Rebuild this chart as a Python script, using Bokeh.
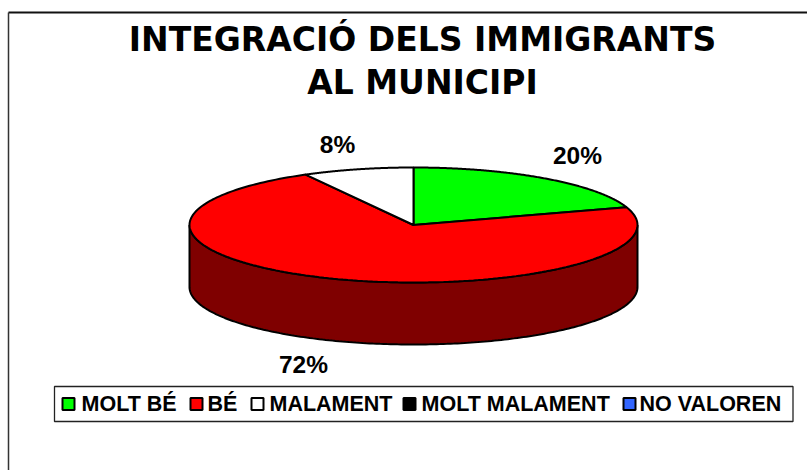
import numpy as np
from bokeh.plotting import figure
from bokeh.embed import file_html
from bokeh.resources import INLINE
from bokeh.core.properties import value
from bokeh.models import Range1d

categories = ["MOLT BÉ", "BÉ", "MALAMENT", "MOLT MALAMENT", "NO VALOREN"]
shares = [20, 72, 8, 0, 0]
colors = ["#00ff00", "#ff0000", "#ffffff", "#000000", "#3366ff"]
side_color = "#7f0000"
title_lines = ["INTEGRACIÓ DELS IMMIGRANTS", "AL MUNICIPI"]

W, H = 807, 470
p = figure(width=W, height=H, output_backend="svg", toolbar_location=None,
           x_range=Range1d(0, W), y_range=Range1d(H, 0),
           min_border=0, background_fill_color="white", border_fill_color="white",
           styles={"position": "absolute", "left": "0px", "top": "0px"})
p.axis.visible = False
p.grid.visible = False
p.outline_line_color = None

# chart border (top and left)
p.line([8, 807], [12, 12], line_color="#111111", line_width=2)
p.line([8, 8], [12, 470], line_color="#333333", line_width=1.5)

cx, cy, rx, ry, depth = 413, 224.5, 224, 57.5, 62

def pt(theta):
    return cx + rx * np.sin(theta), cy - ry * np.cos(theta)

# side wall (front half)
th = np.linspace(np.pi / 2, 3 * np.pi / 2, 200)
x, y = pt(th)
p.patch(np.r_[x, x[::-1]], np.r_[y, y[::-1] + depth], fill_color=side_color,
        line_color="black", line_width=2)

# top slices
start = 0.0
for share, color in zip(shares, colors):
    if share == 0:
        continue
    end = start + share / 100 * 2 * np.pi
    th = np.linspace(start, end, 200)
    x, y = pt(th)
    p.patch(np.r_[cx, x], np.r_[cy, y], fill_color=color, line_color="black", line_width=2)
    start = end

# title
p.text([422, 422], [39, 82], text=title_lines, text_font=value("DejaVu Sans"), text_font_style="bold",
       text_font_size="33px", text_align="center", text_baseline="middle", text_color="black")

# data labels
label_x = [577, 337, 303]
label_y = [155, 144, 364]
p.text(label_x, label_y, text=[f"{shares[0]}%", f"{shares[2]}%", f"{shares[1]}%"],
       text_font=value("Liberation Sans"), text_font_style="bold", text_font_size="24.5px",
       text_align="center", text_baseline="middle", text_color="black")

# legend box
p.quad(left=[54], right=[792.5], top=[386], bottom=[421], fill_color="white",
       line_color="#222222", line_width=1.3)
swatch_x = [62, 190, 251, 403, 623]
text_x = [81, 207, 269, 421, 639]
sy = 403.5
p.quad(left=swatch_x, right=[s + 12 for s in swatch_x], top=[sy - 6] * 5, bottom=[sy + 6] * 5,
       fill_color=colors, line_color="black", line_width=2)
p.text(text_x, [sy] * 5, text=categories, text_font=value("Liberation Sans"), text_font_style="bold",
       text_font_size="21.5px", text_align="left", text_baseline="middle", text_color="black")

open("out.html", "w").write(file_html(p, INLINE))
